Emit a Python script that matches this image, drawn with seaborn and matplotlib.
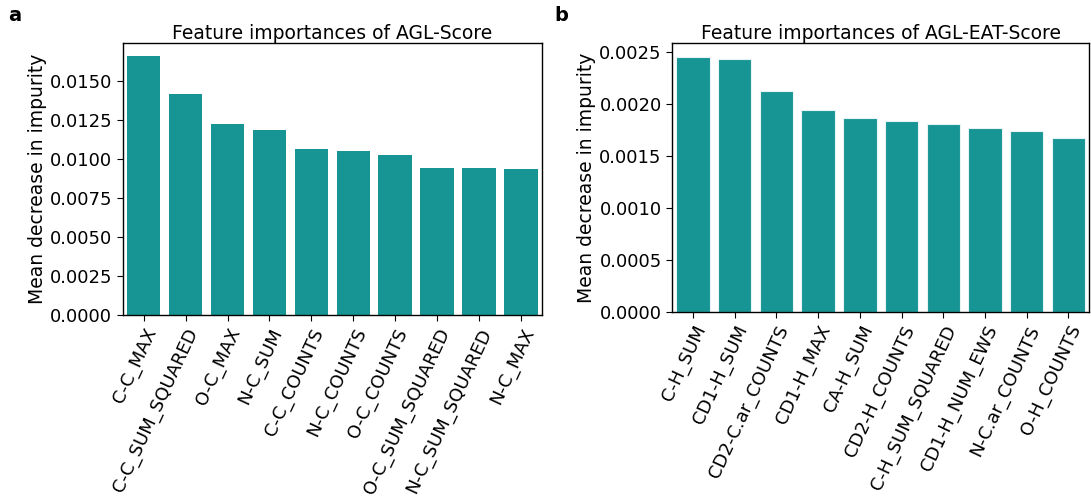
import matplotlib
matplotlib.use("Agg")
import matplotlib.pyplot as plt
import seaborn as sns
import pandas as pd

agl_features = ["C-C_MAX", "C-C_SUM_SQUARED", "O-C_MAX", "N-C_SUM", "C-C_COUNTS",
                "N-C_COUNTS", "O-C_COUNTS", "O-C_SUM_SQUARED", "N-C_SUM_SQUARED", "N-C_MAX"]
agl_importance = [0.01660, 0.01421, 0.01224, 0.01186, 0.01064,
                  0.01051, 0.01026, 0.00942, 0.00942, 0.00936]

eat_features = ["C-H_SUM", "CD1-H_SUM", "CD2-C.ar_COUNTS", "CD1-H_MAX", "CA-H_SUM",
                "CD2-H_COUNTS", "C-H_SUM_SQUARED", "CD1-H_NUM_EWS", "N-C.ar_COUNTS", "O-H_COUNTS"]
eat_importance = [0.002458, 0.002433, 0.002131, 0.001949, 0.001869,
                  0.001843, 0.001814, 0.001776, 0.001747, 0.001676]

bar_color = "#179494"

sns.set_style("ticks")
plt.rcParams["font.family"] = ["DejaVu Sans"]
for key in ("text.color", "axes.labelcolor", "xtick.color", "ytick.color", "axes.edgecolor"):
    plt.rcParams[key] = "black"

fig = plt.figure(figsize=(10.91, 4.98), dpi=100)
ax_a = fig.add_axes([0.1125, 0.3675, 0.3843, 0.546])
ax_b = fig.add_axes([0.616, 0.3735, 0.3825, 0.540])

panels = [
    (ax_a, agl_features, agl_importance, "Feature importances of AGL-Score", "a", 0.007, 0.0),
    (ax_b, eat_features, eat_importance, "Feature importances of AGL-EAT-Score", "b", 0.508, 0.8),
]

for ax, feats, vals, title, letter, lx, edge_lw in panels:
    df = pd.DataFrame({"feature": feats, "importance": vals})
    sns.barplot(data=df, x="feature", y="importance", color=bar_color,
                saturation=1, width=0.8, edgecolor="#e8f4f4", linewidth=edge_lw, ax=ax)
    ax.set_title(title, fontsize=13.5, pad=3)
    ax.set_xlabel("")
    ax.set_ylabel("Mean decrease in impurity", fontsize=13.5, labelpad=2)
    ax.tick_params(axis="both", labelsize=13, length=4, colors="black")
    ax.set_xticks(range(len(feats)))
    ax.set_xticklabels(feats, rotation=65, ha="right", rotation_mode="anchor")
    ax.set_xlim(-0.5, len(feats) - 0.5)
    for s in ax.spines.values():
        s.set_visible(True)
        s.set_linewidth(1.0)
        s.set_color("black")
    fig.text(lx, 0.988, letter, fontsize=14, fontweight="bold", va="top", ha="left")

ax_a.set_ylim(0, 0.01745)
ax_a.set_yticks([0, 0.0025, 0.005, 0.0075, 0.01, 0.0125, 0.015])
ax_a.set_yticklabels([f"{v:.4f}" for v in ax_a.get_yticks()])
ax_b.set_ylim(0, 0.00259)
ax_b.set_yticks([0, 0.0005, 0.001, 0.0015, 0.002, 0.0025])
ax_b.set_yticklabels([f"{v:.4f}" for v in ax_b.get_yticks()])

fig.savefig("out.png", dpi=100)
